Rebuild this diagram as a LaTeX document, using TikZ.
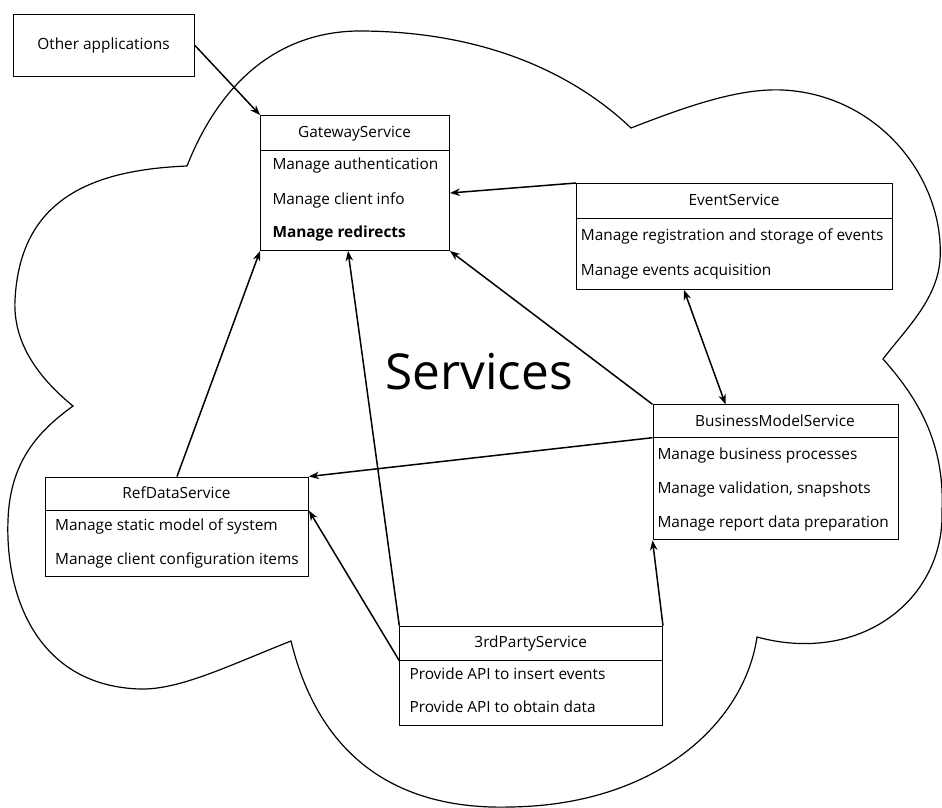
\documentclass[tikz,border=0pt]{standalone}
\usepackage{fontspec}
\setmainfont{Open Sans}
\usetikzlibrary{arrows.meta}
\begin{document}
\begin{tikzpicture}[x=1pt,y=-1pt,
  box/.style={draw, line width=1pt, inner sep=0pt, anchor=north west},
  hdr/.style={anchor=base, inner sep=0pt, font=\fontsize{15.4}{18}\selectfont},
  item/.style={anchor=base west, inner sep=0pt, font=\fontsize{15.4}{18}\selectfont},
  conn/.style={line width=1.5pt, -{Stealth[length=10pt,width=7.5pt]}},
  bconn/.style={line width=1.5pt, {Stealth[length=10pt,width=7.5pt]}-{Stealth[length=10pt,width=7.5pt]}},
  divider/.style={line width=1pt}
]
\useasboundingbox (0,0) rectangle (942,807);
\fill[white] (0,0) rectangle (942,807);
% cloud
\draw[line width=1.2pt]
  (187,166) .. controls (225,70) and (290,30) .. (363,31)
  .. controls (480,32) and (570,70) .. (631,128)
  .. controls (690,105) and (740,88) .. (783,90)
  .. controls (880,95) and (945,180) .. (940,260)
  .. controls (937,300) and (905,330) .. (883,359)
  .. controls (915,395) and (945,440) .. (942,510)
  .. controls (945,600) and (860,665) .. (757,637)
  .. controls (745,720) and (660,805) .. (510,807)
  .. controls (400,810) and (320,760) .. (291,641)
  .. controls (230,665) and (180,690) .. (140,689)
  .. controls (40,686) and (5,600) .. (8,520)
  .. controls (10,460) and (40,430) .. (73,406)
  .. controls (35,375) and (13,340) .. (15,300)
  .. controls (20,200) and (90,170) .. (187,166);

\node[anchor=base, inner sep=0pt, font=\fontsize{49.5}{58}\selectfont] (svc) at (479,389) {Services};

% Other applications
\node[box, minimum width=181pt, minimum height=62pt] (oa) at (13,14) {};
\node[hdr] (oat) at (103.5,49) {Other applications};

% GatewayService
\node[box, minimum width=189pt, minimum height=135pt] (gw) at (260,115) {};
\draw[divider] ([yshift=-35pt]gw.north west) -- ([yshift=-35pt]gw.north east);
\node[hdr] (gwh) at (354.5,137) {GatewayService};
\node[item] (gw1) at (272.3,169.3) {Manage authentication};
\node[item] (gw2) at (272.3,204) {Manage client info};
\node[item] (gw3) at (272.3,237) {\bfseries Manage redirects};

% EventService
\node[box, minimum width=316pt, minimum height=106pt] (ev) at (576,183) {};
\draw[divider] ([yshift=-35.5pt]ev.north west) -- ([yshift=-35.5pt]ev.north east);
\node[hdr] (evh) at (734,205) {EventService};
\node[item] (ev1) at (580.7,240.7) {Manage registration and storage of events};
\node[item] (ev2) at (580.7,275.7) {Manage events acquisition};

% BusinessModelService
\node[box, minimum width=245pt, minimum height=135pt] (bm) at (652.5,404.3) {};
\draw[divider] ([yshift=-33.4pt]bm.north west) -- ([yshift=-33.4pt]bm.north east);
\node[hdr] (bmh) at (775,426) {BusinessModelService};
\node[item] (bm1) at (657.3,459.3) {Manage business processes};
\node[item] (bm2) at (657.3,493.3) {Manage validation, snapshots};
\node[item] (bm3) at (657.3,527.7) {Manage report data preparation};

% RefDataService
\node[box, minimum width=263pt, minimum height=99.5pt] (rd) at (45,476.5) {};
\draw[divider] ([yshift=-34.2pt]rd.north west) -- ([yshift=-34.2pt]rd.north east);
\node[hdr] (rdh) at (176.5,498.3) {RefDataService};
\node[item] (rd1) at (55,530) {Manage static model of system};
\node[item] (rd2) at (55,564) {Manage client configuration items};

% 3rdPartyService
\node[box, minimum width=262.7pt, minimum height=99.3pt] (tp) at (399.3,625.7) {};
\draw[divider] ([yshift=-35pt]tp.north west) -- ([yshift=-35pt]tp.north east);
\node[hdr] (tph) at (530.7,647.3) {3rdPartyService};
\node[item] (tp1) at (409.3,679) {Provide API to insert events};
\node[item] (tp2) at (409.3,712.7) {Provide API to obtain data};

% connectors
\draw[conn] (oa.east) -- (gw.north west);
\draw[conn] (ev.north west) -- ([yshift=-78pt]gw.north east);
\draw[conn] (bm.north west) -- (gw.south east);
\draw[conn] (rd.north) -- (gw.south west);
\draw[conn] (tp.north west) -- ([xshift=88pt]gw.south west);
\draw[conn] ([yshift=-35pt]tp.north west) -- ([yshift=-34.2pt]rd.north east);
\draw[conn] ([yshift=-33.4pt]bm.north west) -- (rd.north east);
\draw[conn] (tp.north east) -- (bm.south west);
\draw[bconn] ([xshift=108pt]ev.south west) -- ([xshift=73pt]bm.north west);
\end{tikzpicture}
\end{document}
